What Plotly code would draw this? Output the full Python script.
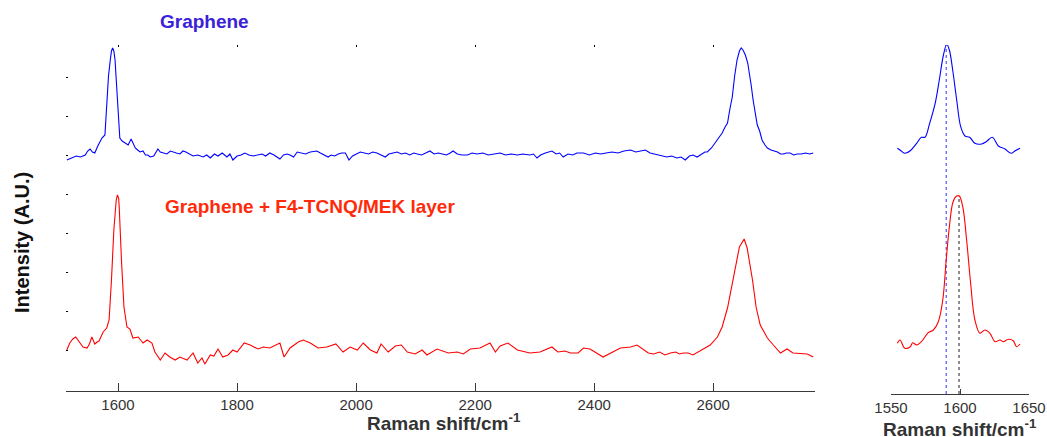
import plotly.graph_objects as go

# ---------------- data ----------------
# Left panel: full Raman spectra (wavenumber, intensity A.U.)
blue_x = [1514,1522,1530,1537,1545,1549,1553,1557,1561,1566,1570,1573,1578,1581,1584,1587,1589,1591,1593,1595,1597,1599,1601,1602,1603,1607,1612,1617,1622,1625,1629,1633,1637,1642,1646,1650,1654,1660,1667,1671,1676,1682,1688,1692,1698,1704,1709,1714,1720,1726,1734,1743,1749,1755,1762,1768,1775,1779,1783,1788,1793,1800,1807,1813,1820,1827,1834,1842,1848,1855,1862,1868,1872,1878,1884,1889,1895,1901,1908,1915,1923,1930,1934,1940,1947,1953,1958,1964,1970,1976,1982,1988,1994,2000,2007,2014,2021,2028,2035,2042,2049,2055,2062,2069,2076,2083,2090,2097,2103,2110,2117,2124,2131,2138,2145,2152,2158,2163,2170,2178,2187,2195,2203,2213,2222,2232,2242,2251,2261,2271,2280,2292,2298,2304,2310,2318,2329,2336,2342,2348,2356,2364,2371,2382,2392,2402,2411,2420,2430,2440,2450,2461,2470,2478,2486,2494,2500,2506,2515,2522,2530,2539,2546,2553,2560,2566,2573,2580,2586,2590,2597,2603,2609,2615,2620,2624,2628,2632,2636,2640,2644,2647,2650,2654,2658,2661,2664,2667,2671,2674,2678,2682,2687,2691,2697,2703,2708,2713,2718,2723,2729,2735,2741,2748,2755,2762,2768]
blue_y = [231,233,235,234,236,240,242,239,238,245,250,253,256,291,315,331,340,343,340,331,312,291,270,254,253,250,248,246,252,248,243,241,239,240,236,236,234,235,242,239,238,237,240,239,238,237,240,239,237,235,236,234,236,233,237,235,238,236,234,237,231,235,236,238,236,235,236,237,235,238,236,234,232,236,237,236,234,239,238,237,239,240,240,238,236,234,236,235,237,238,238,231,235,237,239,238,237,239,238,236,234,237,238,239,237,238,236,238,237,236,238,240,237,238,237,236,238,240,237,236,236,238,237,238,236,237,238,236,237,236,237,236,237,233,236,238,240,237,238,234,237,236,238,238,236,238,237,238,239,238,240,241,239,240,241,238,237,236,235,234,235,233,234,231,235,236,234,237,239,239,243,248,253,258,264,268,282,294,315,331,340,343,341,336,328,318,305,291,278,266,260,251,246,243,241,240,239,237,237,238,238,236,237,237,238,237,238]

red_x = [1514,1519,1524,1529,1535,1541,1548,1552,1556,1561,1565,1568,1572,1575,1581,1584,1585,1589,1593,1597,1599,1601,1602,1606,1610,1615,1620,1625,1634,1642,1649,1657,1662,1671,1679,1687,1696,1704,1716,1726,1734,1741,1746,1755,1761,1768,1776,1785,1793,1800,1812,1822,1835,1844,1855,1872,1879,1889,1903,1911,1923,1936,1951,1966,1978,1990,2002,2012,2024,2035,2042,2054,2066,2076,2086,2099,2111,2119,2136,2155,2170,2180,2192,2208,2225,2234,2242,2255,2271,2292,2309,2329,2339,2351,2360,2373,2382,2393,2415,2444,2461,2472,2491,2500,2510,2519,2528,2537,2543,2550,2558,2566,2583,2595,2607,2615,2624,2632,2637,2644,2652,2657,2666,2672,2679,2691,2701,2713,2724,2734,2758,2768]
red_y = [41,48,52,54,49,44,43,47,54,47,49,50,55,59,63,68,71,111,161,191,196,193,184,128,84,64,62,53,54,48,51,48,39,31,38,34,31,34,31,38,28,33,27,36,35,42,34,36,41,39,48,46,42,44,43,48,34,43,49,51,48,43,44,47,39,44,41,48,41,38,47,39,45,46,39,37,41,36,42,38,39,37,42,43,48,39,45,48,41,38,39,44,39,40,38,38,43,42,34,43,44,46,38,37,39,36,38,39,37,38,38,36,42,46,54,64,83,108,123,144,152,143,111,84,66,53,46,38,42,38,37,34]

# Right panel: zoom on the G band
zb_x = [1554.6,1556.5,1560,1564,1568.6,1572,1574.6,1578,1582,1585,1588,1590.4,1592.3,1594.7,1597.6,1600.5,1603.6,1607,1610.8,1615.7,1619,1623.4,1627.8,1632.6,1637,1640,1643.5]
zb_y = [245.7,244,240.7,243.3,250.7,256.7,256.7,270.7,290.7,314,339,349.7,344,324,294,267.3,258,256.7,250.7,250,252.3,256.7,248,245,240.7,243.3,245.7]
zr_x = [1554.6,1556.5,1560,1564,1565.7,1568.6,1572,1577,1580.7,1584.3,1587.5,1590,1592.3,1595,1597.6,1599.5,1602,1604.8,1607.7,1610.8,1614.5,1618,1621.7,1625.4,1629,1631.4,1635,1638.6,1641,1643.5]
zr_y = [50.7,54,45.7,47.3,51.3,49,52.3,61.3,64,72.3,94,134,167.3,192.3,198,198,187.3,154,110.7,74,60.7,64,60.7,52.3,54,52.3,54.7,53.3,47.3,50]

# Peak positions marked by dotted lines
g_peak_blue = 1590.0
g_peak_blue_top = 349.7
g_peak_red = 1599.3
g_peak_red_top = 198.0

left_ticks = [1600, 1800, 2000, 2200, 2400, 2600]
right_ticks = [1550, 1600, 1650]

# ---------------- figure ----------------
FONT = "Liberation Sans"
W, H = 1047, 437

fig = go.Figure()
fig.add_trace(go.Scatter(x=blue_x, y=blue_y, mode="lines",
                         line=dict(color="#0000ff", width=1.1), xaxis="x", yaxis="y"))
fig.add_trace(go.Scatter(x=red_x, y=red_y, mode="lines",
                         line=dict(color="#ff0000", width=1.1), xaxis="x", yaxis="y"))
fig.add_trace(go.Scatter(x=[g_peak_blue, g_peak_blue], y=[0, g_peak_blue_top], mode="lines",
                         line=dict(color="#3030ff", width=1, dash="dot"), xaxis="x2", yaxis="y2"))
fig.add_trace(go.Scatter(x=[g_peak_red, g_peak_red], y=[0, g_peak_red_top], mode="lines",
                         line=dict(color="#202020", width=1, dash="dot"), xaxis="x2", yaxis="y2"))
fig.add_trace(go.Scatter(x=zb_x, y=zb_y, mode="lines", line_shape="spline",
                         line=dict(color="#0000ff", width=1.1), xaxis="x2", yaxis="y2"))
fig.add_trace(go.Scatter(x=zr_x, y=zr_y, mode="lines", line_shape="spline",
                         line=dict(color="#ff0000", width=1.1), xaxis="x2", yaxis="y2"))
# dummy trace to activate the top tick axis
fig.add_trace(go.Scatter(x=[None], y=[None], xaxis="x3", yaxis="y", showlegend=False))

axcol = "#3a3a3a"
tickfont = dict(family=FONT, size=15, color="#333333")

fig.update_layout(
    width=W, height=H,
    margin=dict(l=0, r=0, t=0, b=0, pad=0, autoexpand=False),
    paper_bgcolor="white", plot_bgcolor="white",
    showlegend=False,
    xaxis=dict(domain=[66/W, 815/W], range=[1512.6, 2771], tickvals=left_ticks,
               showline=True, linecolor=axcol, linewidth=1, automargin=False,
               ticks="inside", ticklen=8, tickcolor=axcol, tickwidth=1,
               showgrid=False, zeroline=False, tickfont=tickfont, anchor="y"),
    xaxis3=dict(overlaying="x", side="top", anchor="y", range=[1512.6, 2771], tickvals=left_ticks,
                showline=False, ticks="inside", ticklen=1.5, tickcolor="black", tickwidth=1,
                automargin=False, showticklabels=False, showgrid=False, zeroline=False),
    yaxis=dict(domain=[(H-391)/H, (H-45)/H], range=[0, 346], automargin=False,
               showline=False, showticklabels=False, showgrid=False, zeroline=False,
               ticks="inside", ticklen=1.5, tickcolor="black", tick0=1, dtick=39.1, anchor="x"),
    xaxis2=dict(domain=[891/W, 1029/W], range=[1550, 1650], tickvals=right_ticks,
                showline=True, linecolor=axcol, linewidth=1, automargin=False,
                ticks="inside", ticklen=5, tickcolor=axcol,
                showgrid=False, zeroline=False, tickfont=tickfont, anchor="y2"),
    yaxis2=dict(domain=[(H-394)/H, (H-45)/H], range=[0, 349], automargin=False,
                visible=False, anchor="x2"),
)

title_font = dict(family=FONT, size=19, color="#333333")
ann = [
    dict(text="<b>Graphene</b>", x=204/W, y=1-22/H, xanchor="center", yanchor="middle",
         font=dict(family=FONT, size=19, color="#3a22d8")),
    dict(text="<b>Graphene + F4-TCNQ/MEK layer</b>", x=163/W, y=1-206/H, xanchor="left", yanchor="middle",
         font=dict(family=FONT, size=19, color="#ff2a0a")),
    dict(text="<b>Raman shift/cm<sup>-1</sup></b>", x=444/W, y=1-422/H, xanchor="center", yanchor="middle",
         font=title_font),
    dict(text="<b>Raman shift/cm<sup>-1</sup></b>", x=960/W, y=1-428/H, xanchor="center", yanchor="middle",
         font=title_font),
    dict(text="<b>Intensity (A.U.)</b>", x=22/W, y=1-243/H, xanchor="center", yanchor="middle",
         textangle=-90, font=dict(family=FONT, size=20, color="#111111")),
]
for a in ann:
    a.update(xref="paper", yref="paper", showarrow=False)
fig.update_layout(annotations=ann)

fig.write_html("out.html")
